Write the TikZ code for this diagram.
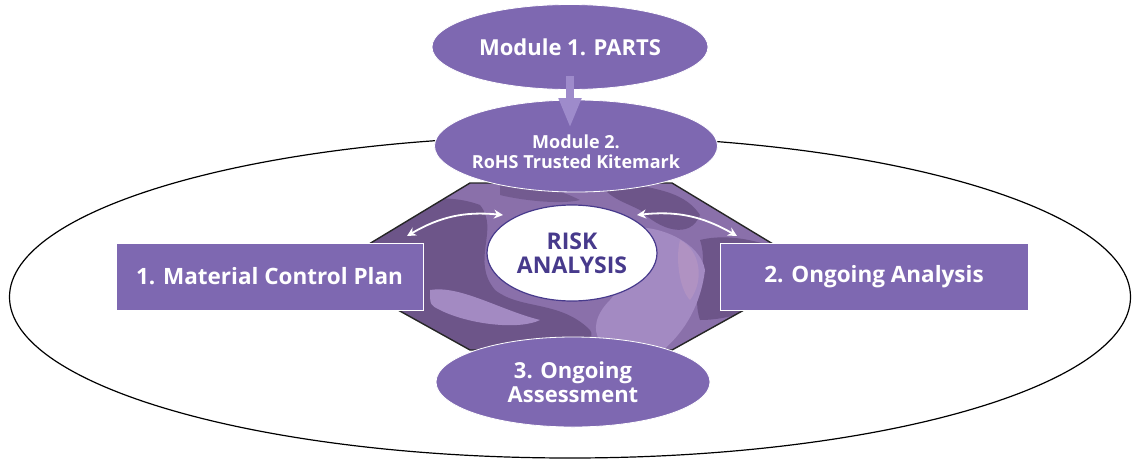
\documentclass[tikz,border=0pt]{standalone}
\usepackage{fontspec}
\setmainfont{Open Sans}
\usetikzlibrary{shapes.geometric,arrows.meta}
\definecolor{purp}{HTML}{7E68B1}
\definecolor{arrowpurp}{HTML}{9E8BCB}
\definecolor{hexbase}{HTML}{8A70AA}
\definecolor{hexdark}{HTML}{6D5589}
\definecolor{hexlight}{HTML}{A38AC2}
\definecolor{hexpink}{HTML}{B092C2}
\definecolor{riskblue}{HTML}{473A8C}
\tikzset{
  pell/.style={ellipse, fill=purp, draw=white, line width=0.8pt, inner sep=0pt, text=white, font=\bfseries, align=center},
  pbox/.style={rectangle, fill=purp, draw=white, line width=0.8pt, inner sep=0pt, text=white, font=\bfseries\fontsize{22.5}{26}\selectfont},
  dbl/.style={white, line width=1.8pt, {Stealth[length=9pt,width=9pt]}-{Stealth[length=9pt,width=9pt]}},
}
\begin{document}
\begin{tikzpicture}[x=1pt,y=-1pt]
\useasboundingbox (0,0) rectangle (1132,461);
% big ellipse
\node[ellipse, draw=black, line width=1.2pt, fill=white, minimum width=1121pt, minimum height=322pt, inner sep=0pt] (big) at (570,297) {};
% hexagon with texture
\begin{scope}
\path[clip] (470,183) -- (672,183) -- (816,270) -- (672,350) -- (470,350) -- (326,270) -- cycle;
\fill[hexbase] (300,170) rectangle (830,360);
\fill[hexdark] (330,240) .. controls (380,200) and (440,190) .. (480,205) .. controls (500,230) and (470,260) .. (495,290) .. controls (520,310) and (560,300) .. (590,330) .. controls (600,345) and (560,360) .. (470,360) .. controls (400,340) and (340,300) .. cycle;
\fill[hexdark] (600,175) .. controls (640,190) and (680,185) .. (700,215) .. controls (690,240) and (660,230) .. (640,210) .. controls (620,200) and (600,195) .. cycle;
\fill[hexdark] (700,240) .. controls (740,230) and (790,250) .. (820,270) .. controls (780,300) and (740,320) .. (700,320) .. controls (690,290) and (710,270) .. cycle;
\fill[hexlight] (620,230) .. controls (650,220) and (700,240) .. (705,270) .. controls (700,310) and (680,340) .. (650,360) .. controls (600,360) and (580,330) .. (610,300) .. controls (630,280) and (600,250) .. cycle;
\fill[hexpink] (680,240) .. controls (700,250) and (705,280) .. (690,300) .. controls (680,290) and (675,260) .. cycle;
\fill[hexlight] (430,290) .. controls (460,285) and (500,310) .. (540,320) .. controls (520,330) and (470,325) .. (440,310) .. controls (430,305) .. cycle;
\fill[hexdark!80!hexbase] (500,180) .. controls (540,185) and (560,190) .. (580,200) .. controls (560,205) and (520,200) .. (500,195) -- cycle;
\end{scope}
\draw[black!85, line width=1.4pt] (470,183) -- (672,183) -- (816,270) -- (672,350) -- (470,350) -- (326,270) -- cycle;
% boxes
\node[pbox, minimum width=307pt, minimum height=67pt] (mcp) at (269.5,276.5) {1. Material Control Plan};
\node[pbox, minimum width=308pt, minimum height=67pt] (oan) at (874,276.5) {2. Ongoing Analysis};
% ellipses
\node[pell, minimum width=283pt, minimum height=92pt] (m2) at (576,146) {};
\node[text=white, font=\bfseries\fontsize{18}{20}\selectfont, align=center, inner sep=0pt] (m2t) at (576,152) {Module 2.\\RoHS Trusted Kitemark};
\node[pell, minimum width=274pt, minimum height=90pt, font=\bfseries\fontsize{22}{24}\selectfont] (oas) at (573,382) {3. Ongoing\\Assessment};
\node[ellipse, fill=white, draw=riskblue, line width=1.2pt, minimum width=170pt, minimum height=96pt, inner sep=0pt, text=riskblue, align=center, font=\bfseries\fontsize{23}{24}\selectfont] (risk) at (572,253) {RISK\\ANALYSIS};
\node[pell, minimum width=276pt, minimum height=85pt, font=\bfseries\fontsize{22}{24}\selectfont] (m1) at (570,47) {Module 1. PARTS};
% arrow module1 -> module2
\coordinate (m1a) at (570,76);
\coordinate (m2a) at (570,128);
\draw[arrowpurp, line width=8pt, -{Triangle[width=21pt,length=30pt]}] (m1a) -- (m2a);
% white double arrows
\coordinate (l1) at (407,236);
\coordinate (l2) at (503,215);
\coordinate (r1) at (637,215);
\coordinate (r2) at (737,236);
\draw[dbl] (l1) to[bend left=18] (l2);
\draw[dbl] (r1) to[bend left=18] (r2);
\end{tikzpicture}
\end{document}
